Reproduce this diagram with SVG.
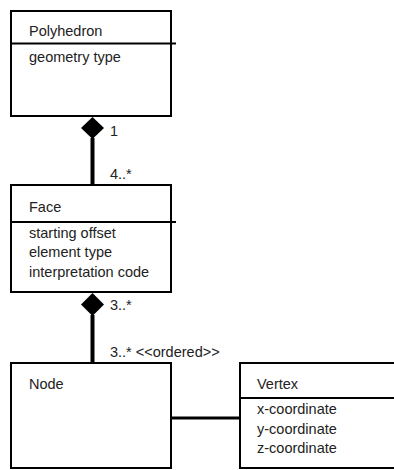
<svg xmlns="http://www.w3.org/2000/svg" width="394" height="470" viewBox="0 0 394 470">
<style>
.box{fill:#fff;stroke:#000;stroke-width:2}
.div{stroke:#000;stroke-width:2}
.t{font-family:"Liberation Sans",Arial,sans-serif;font-size:14.5px;fill:#222}
.c{stroke:#000;stroke-width:4;fill:none}
.dia{fill:#000}
</style>
<rect width="394" height="470" fill="#fff"/>
<g id="connectors">
<line class="c" x1="92.5" y1="138" x2="92.5" y2="185"/>
<polygon class="dia" points="92.5,117 104,128 92.5,139 81,128"/>
<text class="t" x="110" y="136">1</text>
<text class="t" x="110" y="179">4..*</text>
<line class="c" x1="92.5" y1="315" x2="92.5" y2="363"/>
<polygon class="dia" points="92.5,293 104,304.5 92.5,316 81,304.5"/>
<text class="t" x="110" y="310">3..*</text>
<text class="t" x="110" y="357">3..* &lt;&lt;ordered&gt;&gt;</text>
<line x1="171" y1="418" x2="240" y2="418" stroke="#000" stroke-width="3"/>
</g>
<g id="polyhedron">
<rect class="box" x="11" y="11" width="160" height="105"/>
<line class="div" x1="11" y1="43.5" x2="176" y2="43.5"/>
<text class="t" x="29" y="36">Polyhedron</text>
<text class="t" x="29" y="62">geometry type</text>
</g>
<g id="face">
<rect class="box" x="11" y="185" width="160" height="107"/>
<line class="div" x1="11" y1="222" x2="176" y2="222"/>
<text class="t" x="29" y="212">Face</text>
<text class="t" x="29" y="238">starting offset</text>
<text class="t" x="29" y="257">element type</text>
<text class="t" x="29" y="277">interpretation code</text>
</g>
<g id="node">
<rect class="box" x="11" y="363" width="160" height="105"/>
<text class="t" x="29" y="389">Node</text>
</g>
<g id="vertex">
<rect class="box" x="240" y="363" width="170" height="105"/>
<line class="div" x1="240" y1="398" x2="400" y2="398"/>
<text class="t" x="257" y="389">Vertex</text>
<text class="t" x="257" y="414">x-coordinate</text>
<text class="t" x="257" y="434">y-coordinate</text>
<text class="t" x="257" y="453">z-coordinate</text>
</g>
</svg>
